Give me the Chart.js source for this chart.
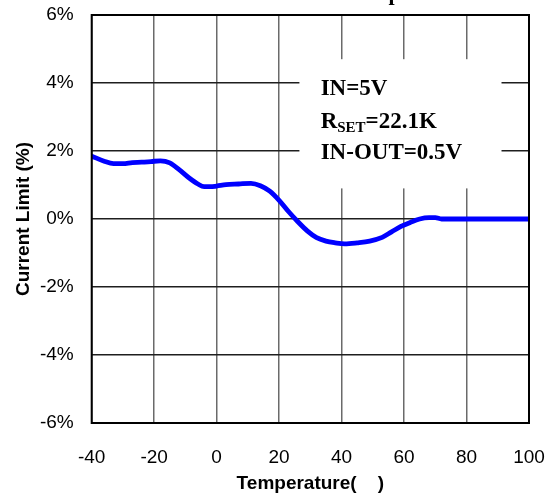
<!DOCTYPE html>
<html>
<head>
<meta charset="utf-8">
<script src="https://cdn.jsdelivr.net/npm/chart.js@4/dist/chart.umd.min.js"></script>
<style>
  html, body { margin: 0; padding: 0; background: #fff; }
  #wrap { width: 558px; height: 498px; }
</style>
</head>
<body>
<div id="wrap"><canvas id="c" width="558" height="498"></canvas></div>
<script>
// Temperature sweep (°C) and measured current-limit deviation (%)
const temperatures = [-40, -36, -33, -30, -27, -24, -21, -18, -15, -12, -9, -6, -4, -2, 0, 3, 7, 11, 14, 17, 20, 23, 26, 29, 32, 35, 38, 41, 45, 49, 53, 56, 59, 62, 65, 68, 70, 72, 76, 80, 90, 100];
const currentLimit = [1.85, 1.70, 1.63, 1.63, 1.66, 1.67, 1.69, 1.71, 1.65, 1.45, 1.22, 1.03, 0.95, 0.95, 0.97, 1.01, 1.03, 1.05, 0.98, 0.82, 0.55, 0.22, -0.08, -0.35, -0.55, -0.65, -0.70, -0.73, -0.70, -0.65, -0.54, -0.38, -0.22, -0.10, 0.00, 0.04, 0.04, 0.00, 0.00, 0.00, 0.00, 0.00];

const xTicks = [-40, -20, 0, 20, 40, 60, 80, 100];
const yTicks = [-6, -4, -2, 0, 2, 4, 6];

const conditionLines = ['IN=5V', 'R_SET=22.1K', 'IN-OUT=0.5V'];
const chartTitle = 'Current Limit vs Temperature';

const SANS = "'Liberation Sans', Arial, sans-serif";
const SERIF = "'Liberation Serif', 'Times New Roman', serif";

// White condition panel with test-condition text
const conditionPanel = {
  id: 'conditionPanel',
  beforeDatasetsDraw(chart) {
    const { ctx, scales: { x, y } } = chart;
    const left = x.getPixelForValue(26.5), right = x.getPixelForValue(91.2);
    const top = y.getPixelForValue(4.7), bottom = y.getPixelForValue(0.9);
    ctx.save();
    ctx.fillStyle = '#fff';
    ctx.fillRect(left, top, right - left, bottom - top);
    ctx.fillStyle = '#000';
    ctx.textBaseline = 'alphabetic';
    ctx.textAlign = 'left';
    const tx = x.getPixelForValue(33.3);
    const big = 'bold 23px ' + SERIF, small = 'bold 15px ' + SERIF;
    const baselines = [y.getPixelForValue(3.65), y.getPixelForValue(2.67), y.getPixelForValue(1.76)];
    conditionLines.forEach((line, i) => {
      const by = baselines[i];
      if (line.indexOf('_') >= 0) {
        const [head, rest] = line.split('_');
        const sub = rest.slice(0, 3), tail = rest.slice(3);
        let cx = tx;
        ctx.font = big; ctx.fillText(head, cx, by); cx += ctx.measureText(head).width;
        ctx.font = small; ctx.fillText(sub, cx, by + 3.5); cx += ctx.measureText(sub).width;
        ctx.font = big; ctx.fillText(tail, cx, by);
      } else {
        ctx.font = big; ctx.fillText(line, tx, by);
      }
    });
    ctx.restore();
  },
  afterDraw(chart) {
    const { ctx, chartArea: a } = chart;
    ctx.save();
    ctx.strokeStyle = '#000';
    ctx.lineWidth = 2;
    ctx.strokeRect(a.left, a.top, a.right - a.left, a.bottom - a.top);
    // chart title sits above the frame, mostly beyond the top edge
    ctx.font = 'bold 22px ' + SERIF;
    ctx.fillStyle = '#000';
    ctx.textBaseline = 'alphabetic';
    ctx.textAlign = 'left';
    const pre = chartTitle.slice(0, chartTitle.indexOf('p'));
    const startX = chart.scales.x.getPixelForValue(55) - ctx.measureText(pre).width;
    ctx.fillText(chartTitle, startX, 0.4);
    ctx.restore();
  }
};

function noOverhang(s) {
  s.paddingTop = 0; s.paddingBottom = 0; s.paddingLeft = 0; s.paddingRight = 0;
}

new Chart(document.getElementById('c'), {
  type: 'line',
  data: {
    datasets: [{
      data: temperatures.map((t, i) => ({ x: t, y: currentLimit[i] })),
      borderColor: '#0000ff',
      borderWidth: 4.8,
      pointRadius: 0,
      fill: false,
      cubicInterpolationMode: 'monotone',
      borderCapStyle: 'round',
      borderJoinStyle: 'round'
    }]
  },
  options: {
    responsive: false,
    animation: false,
    devicePixelRatio: 1,
    layout: { padding: { top: 15, right: 29, left: 0, bottom: 0 } },
    plugins: { legend: { display: false }, tooltip: { enabled: false }, title: { display: false } },
    scales: {
      x: {
        type: 'linear',
        min: xTicks[0], max: xTicks[xTicks.length - 1],
        afterBuildTicks(s) { s.ticks = xTicks.map(v => ({ value: v })); },
        afterFit(s) { s.height = 75; noOverhang(s); },
        grid: { color: '#6a6a6a', lineWidth: 1.5, drawTicks: false },
        border: { display: false },
        ticks: { color: '#000', font: { family: SANS, size: 19 }, padding: 23, maxRotation: 0 },
        title: { display: true, text: 'Temperature(    )', color: '#000', font: { family: SANS, size: 19, weight: 'bold' }, padding: { top: 0, bottom: 3 } }
      },
      y: {
        type: 'linear',
        min: yTicks[0], max: yTicks[yTicks.length - 1],
        afterBuildTicks(s) { s.ticks = yTicks.map(v => ({ value: v })); },
        afterFit(s) { s.width = 91.7; noOverhang(s); },
        grid: { color: '#1e1e1e', lineWidth: 1.5, drawTicks: false },
        border: { display: false },
        ticks: { color: '#000', font: { family: SANS, size: 19 }, padding: 18, callback: v => v + '%' },
        title: { display: true, text: 'Current Limit (%)', color: '#000', font: { family: SANS, size: 19, weight: 'bold' }, padding: { top: 12.5, bottom: 0 } }
      }
    }
  },
  plugins: [conditionPanel]
});
</script>
</body>
</html>
